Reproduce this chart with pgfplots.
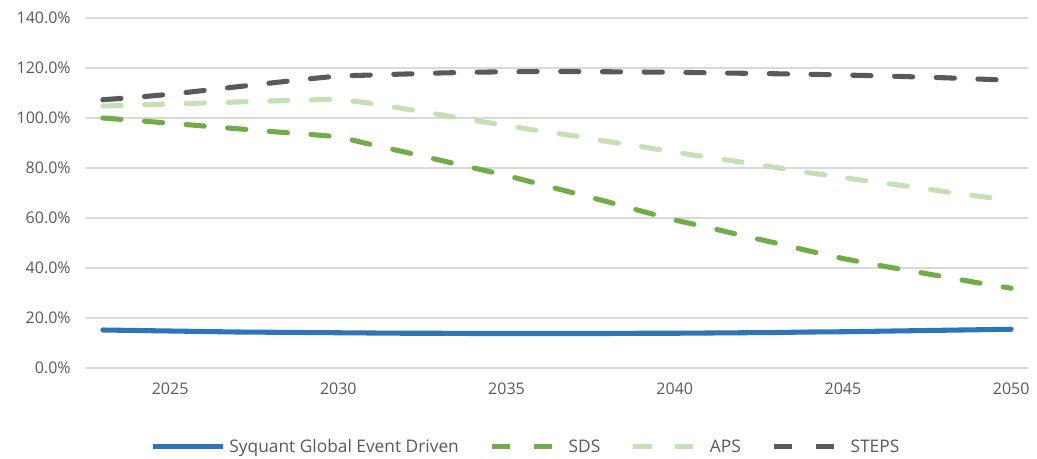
\documentclass[border=0pt]{standalone}
\usepackage{pgfplots}
\pgfplotsset{compat=1.18}
\usepackage{fontspec}
\setmainfont{Open Sans}
\definecolor{cblue}{HTML}{2E75B6}
\definecolor{cgreen}{HTML}{70AD47}
\definecolor{clgreen}{HTML}{C5E0B4}
\definecolor{cgray}{HTML}{595959}
\definecolor{ctext}{HTML}{595959}
\definecolor{cgrid}{HTML}{D9D9D9}
\begin{document}
\begin{tikzpicture}
\begin{axis}[
  at={(0,0)}, anchor=south west,
  scale only axis, width=706.5pt, height=262.5pt,
  xmin=2022.5, xmax=2050.5, ymin=0, ymax=140,
  axis line style={draw=none},
  tick style={draw=none},
  xtick={2025,2030,2035,2040,2045,2050},
  ytick={0,20,40,60,80,100,120,140},
  ymajorgrids, grid style={cgrid, line width=1.1pt},
  /pgf/number format/assume math mode=true,
  x tick label style={/pgf/number format/1000 sep={}, font=\fontsize{12}{14}\selectfont, text=ctext, yshift=-8pt},
  yticklabel={\pgfmathprintnumber[fixed,fixed zerofill,precision=1]{\tick}\%},
  y tick label style={font=\fontsize{12}{14}\selectfont, text=ctext, xshift=-8pt},
  legend columns=4,
  legend cell align=left,
  legend style={at={(rel axis cs:0.068,-0.225)}, anchor=west, draw=none, inner sep=0pt,
    font=\fontsize{13}{15}\selectfont, text=ctext,
    nodes={inner xsep=3pt},
    /tikz/every even column/.append style={column sep=20pt}},
  legend image code/.code={\draw[#1] (0pt,0pt) -- (52.5pt,0pt);},
  line cap=round,
]
\addplot[cblue, line width=3.8pt, no markers] coordinates {
(2023,15.2)(2024,15.0)(2025,14.8)(2026,14.6)(2027,14.4)(2028,14.3)(2029,14.2)(2030,14.1)
(2031,14.0)(2032,13.9)(2033,13.9)(2034,13.8)(2035,13.8)(2036,13.8)(2037,13.8)(2038,13.8)
(2039,13.9)(2040,13.9)(2041,14.0)(2042,14.1)(2043,14.2)(2044,14.4)(2045,14.5)(2046,14.7)
(2047,14.9)(2048,15.1)(2049,15.3)(2050,15.5)};
\addlegendentry{Syquant Global Event Driven}
\addplot[cgreen, line width=3.8pt, no markers, dash pattern=on 13.7pt off 17.6pt] coordinates {
(2023,100.0)(2024,99.0)(2025,97.9)(2026,96.8)(2027,95.7)(2028,94.6)(2029,93.6)(2030,92.5)
(2031,89.3)(2032,86.3)(2033,83.2)(2034,80.1)(2035,77.0)(2036,73.5)(2037,70.0)(2038,66.5)
(2039,62.8)(2040,59.2)(2041,56.2)(2042,53.0)(2043,50.0)(2044,46.8)(2045,43.8)(2046,41.2)
(2047,38.9)(2048,36.5)(2049,34.1)(2050,31.9)};
\addlegendentry{SDS}
\addplot[clgreen, line width=3.8pt, no markers, dash pattern=on 13.7pt off 17.6pt] coordinates {
(2023,104.8)(2024,105.2)(2025,105.6)(2026,106.0)(2027,106.4)(2028,106.8)(2029,107.2)(2030,107.5)
(2031,105.8)(2032,103.6)(2033,101.4)(2034,99.1)(2035,97.0)(2036,94.8)(2037,92.9)(2038,90.6)
(2039,88.6)(2040,86.3)(2041,84.3)(2042,82.3)(2043,80.2)(2044,78.1)(2045,76.2)(2046,74.3)
(2047,72.6)(2048,70.6)(2049,68.8)(2050,67.0)};
\addlegendentry{APS}
\addplot[cgray, line width=3.8pt, no markers, dash pattern=on 13.7pt off 17.6pt] coordinates {
(2023,107.3)(2024,108.3)(2025,109.5)(2026,111.0)(2027,112.5)(2028,114.0)(2029,115.5)(2030,116.8)
(2031,117.2)(2032,117.6)(2033,118.0)(2034,118.3)(2035,118.5)(2036,118.6)(2037,118.6)(2038,118.5)
(2039,118.4)(2040,118.3)(2041,118.1)(2042,117.9)(2043,117.7)(2044,117.5)(2045,117.2)(2046,116.9)
(2047,116.5)(2048,116.1)(2049,115.6)(2050,115.1)};
\addlegendentry{STEPS}
\end{axis}
\path[use as bounding box] (-64.5pt,-67.5pt) rectangle (713.25pt,276pt);
\end{tikzpicture}
\end{document}
